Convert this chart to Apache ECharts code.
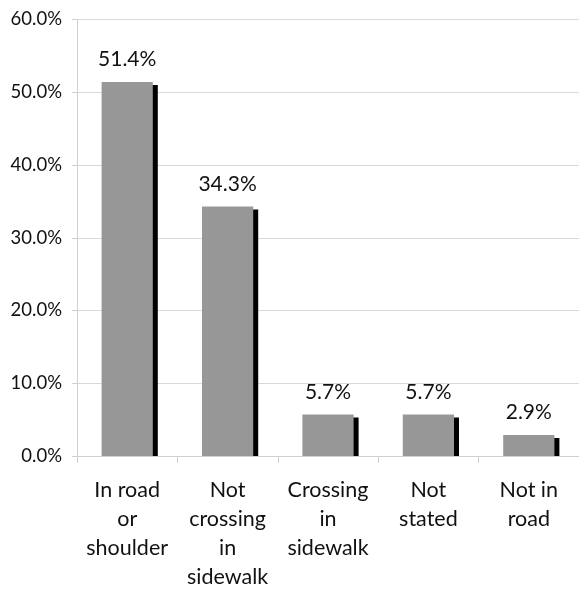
<!DOCTYPE html>
<html>
<head>
<meta charset="utf-8">
<script src="https://cdn.jsdelivr.net/npm/echarts@6/dist/echarts.min.js"></script>
<style>
  html, body { margin: 0; padding: 0; background: #fff; }
  #chart { width: 579px; height: 592px; }
</style>
</head>
<body>
<div id="chart"></div>
<script>
// Location of pedestrian at time of crash (share of cases, %)
const categories = [
  'In road\nor\nshoulder',
  'Not\ncrossing\nin\nsidewalk',
  'Crossing\nin\nsidewalk',
  'Not\nstated',
  'Not in\nroad'
];
const shares = [51.4, 34.3, 5.7, 5.7, 2.9];
const yTicks = { min: 0, max: 60, step: 10 };

const FONT = 'Lato, "Open Sans", sans-serif';
const BAR_FRACTION = 0.51;

const chart = echarts.init(document.getElementById('chart'), null, { renderer: 'canvas' });

chart.setOption({
  animation: false,
  backgroundColor: '#ffffff',
  grid: { left: 77, top: 19.5, width: 503, bottom: 136, containLabel: false },
  xAxis: {
    type: 'category',
    data: categories,
    axisLine: { show: true, lineStyle: { color: '#d0d0d0', width: 1 } },
    axisTick: { show: true, length: 7, alignWithLabel: false, lineStyle: { color: '#d0d0d0' } },
    axisLabel: {
      interval: 0,
      margin: 20,
      color: '#111',
      fontFamily: FONT,
      fontSize: 21.5,
      lineHeight: 29,
      align: 'center',
      verticalAlign: 'top'
    },
    splitLine: { show: false }
  },
  yAxis: {
    type: 'value',
    min: yTicks.min,
    max: yTicks.max,
    interval: yTicks.step,
    axisLine: { show: true, lineStyle: { color: '#d0d0d0', width: 1 } },
    axisTick: { show: true, length: 5, lineStyle: { color: '#d0d0d0' } },
    axisLabel: {
      margin: 15,
      color: '#111',
      fontFamily: FONT,
      fontSize: 18.5,
      formatter: v => v.toFixed(1) + '%'
    },
    splitLine: { show: true, lineStyle: { color: '#d9d9d9', width: 1 } }
  },
  series: [
    {
      // drop shadow behind each bar, offset right and down
      type: 'custom',
      z: 1,
      silent: true,
      data: shares.map((v, i) => [i, v]),
      renderItem: function (params, api) {
        const top = api.coord([api.value(0), api.value(1)]);
        const base = api.coord([api.value(0), 0]);
        const w = api.size([1, 0])[0] * BAR_FRACTION;
        return {
          type: 'rect',
          shape: { x: top[0] - w / 2 + 5, y: top[1] + 3, width: w, height: base[1] - top[1] - 3 },
          style: { fill: '#000000' }
        };
      }
    },
    {
      type: 'bar',
      z: 3,
      data: shares,
      barWidth: (BAR_FRACTION * 100) + '%',
      itemStyle: { color: '#979797' },
      label: {
        show: true,
        position: 'top',
        distance: 12,
        color: '#111',
        fontFamily: FONT,
        fontSize: 21,
        formatter: p => p.value.toFixed(1) + '%'
      }
    }
  ]
});
</script>
</body>
</html>
